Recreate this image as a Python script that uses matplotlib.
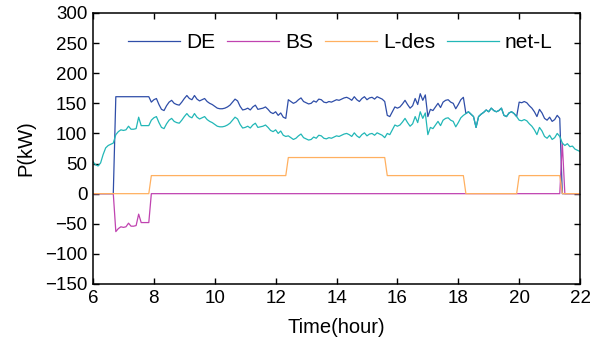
import numpy as np
import matplotlib
matplotlib.use("Agg")
import matplotlib.pyplot as plt

plt.rcParams['font.family'] = ['Liberation Sans', 'DejaVu Sans']

# time axis: 5-minute steps from 6:00 to 22:00
time_h = np.arange(193) / 12.0 + 6.0

net_L = [53, 48, 46, 51, 65, 76, 80, 82, 84,
         98, 103, 106, 105, 106, 112, 107, 107, 108, 127, 113, 113, 113, 113,
         122, 126, 128, 118, 110, 108, 116, 122, 125, 120, 118, 117, 122, 128, 133, 128, 126,
         133, 127, 124, 126, 128, 123, 120, 118, 115, 112, 111, 111, 112, 114, 117, 122, 127,
         124, 115, 109, 110, 112, 109, 114, 117, 110, 111, 112, 114, 110, 105, 103, 106, 100,
         104, 97, 95,
         96, 93, 90, 92, 96, 99, 93, 91, 89, 90, 94, 92, 97, 96, 92, 91, 93, 92, 94, 96, 95,
         97, 99, 100, 98, 95, 101, 96, 93, 98, 101, 96, 99, 100, 97, 101, 99, 97, 93,
         100, 98, 106, 114, 112, 114, 119, 125, 118, 112, 116, 128, 118, 136, 125, 134,
         98, 110, 108, 114, 120, 113, 122, 125, 126, 122, 120, 111, 118, 126, 130,
         133, 136, 132, 128, 110, 128, 132, 135, 139, 136, 142, 138, 136, 138, 142, 130,
         128, 134, 136, 133, 128,
         122, 121, 123, 121, 116, 112, 106, 98, 110, 104, 95, 92, 97, 90, 93, 100, 95,
         84, 80, 83, 78, 79, 74, 72, 70]

DE = [0, 0, 0, 0, 0, 0, 0, 0, 0,
      161, 161, 161, 161, 161, 161, 161, 161, 161, 161, 161, 161, 161, 161,
      152, 156, 158, 148, 140, 138, 146, 152, 155, 150, 148, 147, 152, 158, 163, 158, 156,
      163, 157, 154, 156, 158, 153, 150, 148, 145, 142, 141, 141, 142, 144, 147, 152, 157,
      154, 145, 139, 140, 142, 139, 144, 147, 140, 141, 142, 144, 140, 135, 133, 136, 130,
      134, 127, 125,
      156, 153, 150, 152, 156, 159, 153, 151, 149, 150, 154, 152, 157, 156, 152, 151, 153,
      152, 154, 156, 155, 157, 159, 160, 158, 155, 161, 156, 153, 158, 161, 156, 159, 160,
      157, 161, 159, 157, 153,
      130, 128, 136, 144, 142, 144, 149, 155, 148, 142, 146, 158, 148, 166, 155, 164,
      128, 140, 138, 144, 150, 143, 152, 155, 156, 152, 150, 141, 148, 156, 160,
      133, 136, 132, 128, 110, 128, 132, 135, 139, 136, 142, 138, 136, 138, 142, 130,
      128, 134, 136, 133, 128,
      152, 151, 153, 151, 146, 142, 136, 128, 140, 134, 125, 122, 127, 120, 123, 130, 125,
      0, 0, 0, 0, 0, 0, 0, 0]

BS = ([0] * 9 +
      [-63, -58, -55, -56, -55, -49, -54, -54, -53, -34, -48, -48, -48, -48] +
      [0] * 162 +
      [84] + [0] * 7)

L_des = [0] * 23 + [30] * 54 + [60] * 39 + [30] * 31 + [0] * 21 + [30] * 17 + [0] * 8

labels = ['DE', 'BS', 'L-des', 'net-L']
colors = ['#2F4EA8', '#C043B0', '#FFB060', '#22B7B7']

fig = plt.figure(figsize=(5.98, 3.42), dpi=100)
ax = fig.add_axes([0.1555, 0.1696, 0.8145, 0.7924])

series = [DE, BS, L_des, net_L]
for s, lab, c in zip(series, labels, colors):
    ax.plot(time_h, s, color=c, lw=0.9, label=lab)

ax.set_xlim(6, 22)
ax.set_ylim(-150, 300)
ax.set_xticks(np.arange(6, 23, 2))
ax.set_yticks(np.arange(-150, 301, 50))
ax.tick_params(direction='in', top=True, right=True, length=4, width=1,
               labelsize=13.5, pad=4)
for sp in ax.spines.values():
    sp.set_linewidth(1.1)

ax.set_xlabel('Time(hour)', fontsize=14.5, labelpad=8)
ax.set_ylabel('P(kW)', fontsize=14.5, labelpad=7)

leg = ax.legend(loc='center', bbox_to_anchor=(0.508, 0.89), ncol=4, frameon=False,
                fontsize=15, handlelength=2.5, handletextpad=0.3, columnspacing=0.55,
                borderpad=0.2)

fig.savefig('out.png', dpi=100)
